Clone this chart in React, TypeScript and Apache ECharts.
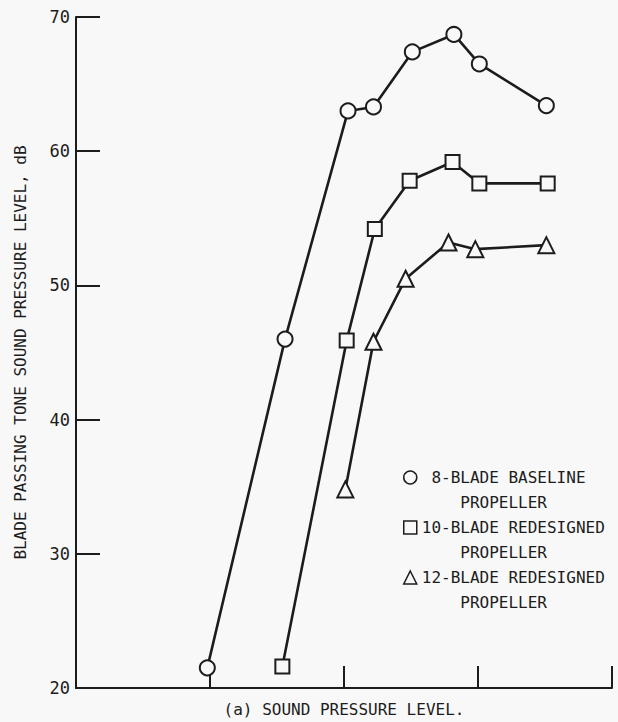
import React, { useEffect, useRef } from "react";
import * as echarts from "echarts";

const BG = "#f8f8f8";
const INK = "#1c1c1c";
const FONT = "'DejaVu Sans Mono', 'Liberation Mono', monospace";

const seriesNames = [
  "8-BLADE BASELINE PROPELLER",
  "10-BLADE REDESIGNED PROPELLER",
  "12-BLADE REDESIGNED PROPELLER",
];
const legendFirstLines = [" 8-BLADE BASELINE", "10-BLADE REDESIGNED", "12-BLADE REDESIGNED"];
const legendSecondLine = "    PROPELLER";
const symbols = ["circle", "rect", "triangle"];

const blade8: [number, number][] = [
  [0.98, 21.5], [1.56, 46.0], [2.03, 63.0], [2.22, 63.3],
  [2.51, 67.4], [2.82, 68.7], [3.01, 66.5], [3.51, 63.4],
];
const blade10: [number, number][] = [
  [1.54, 21.6], [2.02, 45.9], [2.23, 54.2], [2.49, 57.8],
  [2.81, 59.2], [3.01, 57.6], [3.52, 57.6],
];
const blade12: [number, number][] = [
  [2.01, 34.8], [2.22, 45.8], [2.46, 50.5], [2.78, 53.2],
  [2.98, 52.7], [3.51, 53.0],
];
const allData = [blade8, blade10, blade12];

const yTicks = { min: 20, max: 70, interval: 10 };
const xTicks = { min: 0, max: 4, interval: 1 };
const yAxisName = "BLADE PASSING TONE SOUND PRESSURE LEVEL, dB";
const xAxisName = "(a) SOUND PRESSURE LEVEL.";

export default function App() {
  const ref = useRef<HTMLDivElement>(null);
  useEffect(() => {
    if (!ref.current) return;
    const chart = echarts.init(ref.current, null, { renderer: "svg" });
    const symbolSizes = [15, 14, 16];
    chart.setOption({
      animation: false,
      backgroundColor: BG,
      grid: { left: 76, right: 6, top: 17, bottom: 30 },
      xAxis: {
        type: "value",
        min: xTicks.min,
        max: xTicks.max,
        interval: xTicks.interval,
        name: xAxisName,
        nameLocation: "middle",
        nameGap: 13,
        nameTextStyle: { fontFamily: FONT, fontSize: 16, color: INK },
        axisLine: { show: true, lineStyle: { color: INK, width: 2 } },
        axisTick: { show: true, inside: true, length: 22, lineStyle: { color: INK, width: 2 } },
        axisLabel: { show: false },
        splitLine: { show: false },
      },
      yAxis: {
        type: "value",
        min: yTicks.min,
        max: yTicks.max,
        interval: yTicks.interval,
        name: yAxisName,
        nameLocation: "middle",
        nameGap: 48,
        nameTextStyle: { fontFamily: FONT, fontSize: 16, color: INK },
        axisLine: { show: true, lineStyle: { color: INK, width: 2 } },
        axisTick: { show: true, inside: true, length: 24, lineStyle: { color: INK, width: 2 } },
        axisLabel: { fontFamily: FONT, fontSize: 17, color: INK, margin: 6 },
        splitLine: { show: false },
      },
      legend: {
        orient: "vertical",
        left: 403,
        top: 440,
        padding: 0,
        itemGap: -25,
        itemWidth: 13,
        itemHeight: 13,
        data: seriesNames.map((n, i) => ({
          name: n,
          icon: symbols[i],
          itemStyle: { color: BG, borderColor: INK, borderWidth: 1.5 },
        })),
        formatter: (n: string) => {
          const i = seriesNames.indexOf(n);
          return " \n" + legendFirstLines[i] + "\n" + legendSecondLine;
        },
        textStyle: {
          fontFamily: FONT,
          fontSize: 16,
          color: INK,
          lineHeight: 25,
        },
      },
      series: allData.map((d, i) => ({
        name: seriesNames[i],
        type: "line",
        data: d,
        symbol: symbols[i],
        symbolSize: symbolSizes[i],
        showAllSymbol: true,
        lineStyle: { color: INK, width: 2.6 },
        itemStyle: { color: BG, borderColor: INK, borderWidth: 2 },
        emphasis: { disabled: true },
        z: 3,
      })),
    });
    return () => chart.dispose();
  }, []);
  return (
    <div
      ref={ref}
      style={{ position: "absolute", left: 0, top: 0, width: 618, height: 722 }}
    />
  );
}
